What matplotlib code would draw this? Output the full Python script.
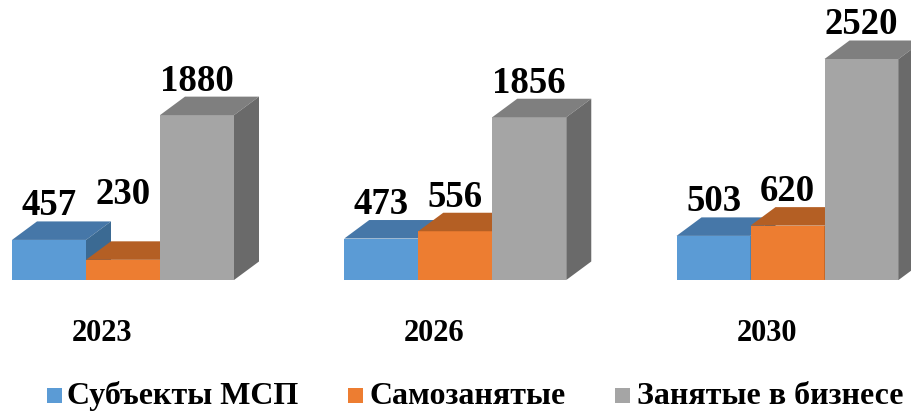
import matplotlib
matplotlib.use('Agg')
import matplotlib.pyplot as plt
from matplotlib.patches import Polygon, Rectangle

# ---- data ----
years = ['2023', '2026', '2030']
series_names = ['Субъекты МСП', 'Самозанятые', 'Занятые в бизнесе']
msp = [457, 473, 503]
self_employed = [230, 556, 620]
business = [1880, 1856, 2520]
series_values = [msp, self_employed, business]

# ---- styles ----
front_colors = ['#5B9BD5', '#ED7D31', '#A5A5A5']
top_colors = ['#4677A8', '#B45F24', '#7F7F7F']
side_colors = ['#3B6A93', '#A0521E', '#6A6A6A']
FONT = 'Liberation Serif'

W, H = 912, 411
fig = plt.figure(figsize=(W / 100, H / 100), dpi=100)
ax = fig.add_axes([0, 0, 1, 1])
ax.axis('off')

px_per_bar = 74.0          # pixels per bar-width unit
left_px = 12.0             # left edge of first bar
base_px = 280.0            # baseline pixel row (from top)
px_per_val = 221.0 / 2520  # pixels per value unit
ax.set_xlim(-left_px / px_per_bar, (W - left_px) / px_per_bar)
ax.set_ylim(-(H - base_px) / px_per_val, base_px / px_per_val)

dx = 25.0 / px_per_bar     # depth offset x (data units)
dy = 18.5 / px_per_val     # depth offset y (data units)
group_step = 4.49
bar_w = 1.0
label_pad = 6.0 / px_per_val
lift_extra = 11.0 / px_per_val

for g, year in enumerate(years):
    gx = g * group_step
    prev_max = 0
    for s in range(len(series_values)):
        v = series_values[s][g]
        x = gx + s * bar_w
        ax.bar(x, v, width=bar_w, align='edge', color=front_colors[s],
               linewidth=0, zorder=2 + s)
        top = Polygon([(x, v), (x + bar_w, v), (x + bar_w + dx, v + dy),
                       (x + dx, v + dy)], closed=True,
                      facecolor=top_colors[s], edgecolor='none', zorder=2 + s)
        side = Polygon([(x + bar_w, 0), (x + bar_w + dx, dy),
                        (x + bar_w + dx, v + dy), (x + bar_w, v)], closed=True,
                       facecolor=side_colors[s], edgecolor='none', zorder=2 + s)
        ax.add_patch(top)
        ax.add_patch(side)
        ly = v + dy + label_pad
        if prev_max > v:
            ly = prev_max + dy + label_pad + lift_extra
        prev_max = max(prev_max, v)
        ax.text(x + bar_w / 2, ly, f'{v}', ha='center', va='baseline',
                fontsize=26.5, fontweight='bold', family=FONT, zorder=10)
    ax.text(gx + 1.5 - 21.0 / px_per_bar, -61.0 / px_per_val, year,
            ha='center', va='baseline', fontsize=22, fontweight='bold',
            family=FONT)

# ---- legend ----
sq_x = [47, 348, 615]
txt_x = [67, 370, 637]
for i, name in enumerate(series_names):
    fig.patches.append(Rectangle((sq_x[i] / W, 1 - 403 / H), 15 / W, 15 / H,
                                 transform=fig.transFigure,
                                 facecolor=front_colors[i], edgecolor='none'))
    fig.text(txt_x[i] / W, 1 - 404 / H, name, ha='left', va='baseline',
             fontsize=23, fontweight='bold', family=FONT)

fig.savefig('out.png', dpi=100)
